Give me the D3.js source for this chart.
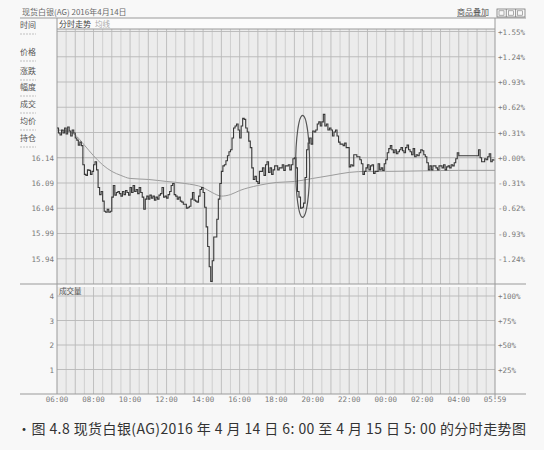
<!DOCTYPE html>
<html><head><meta charset="utf-8">
<script src="https://cdn.jsdelivr.net/npm/d3@7"></script>
<style>
body{margin:0;background:#f8f8f8;}
svg{display:block;font-family:"Noto Sans CJK SC","DejaVu Sans",sans-serif;}
</style></head><body><svg id="c" width="544" height="450"></svg>
<script>
// ---------- data ----------
const titleText = "现货白银(AG) 2016年4月14日";
const panelTitle = "分时走势";
const panelSub = "均线";
const volumeTitle = "成交量";
const overlayText = "商品叠加";
const sideLabels = ["时间","价格","涨跌","幅度","成交","均价","持仓"];
const caption = "•图 4.8   现货白银(AG)2016 年 4 月 14 日 6: 00 至 4 月 15 日 5: 00 的分时走势图";

const basePrice = 16.14;
const priceStart = "2016-04-14 06:00";
const sessionEnd = "2016-04-15 05:59";
const priceIntervalMin = 5;
const prices = [
16.199,16.189,16.185,16.195,16.189,16.199,16.187,16.201,16.193,16.183,
16.195,16.189,16.179,16.175,16.165,16.171,16.164,16.126,16.107,16.105,
16.116,16.115,16.107,16.113,16.126,16.132,16.116,16.081,16.067,16.073,
16.054,16.034,16.032,16.038,16.032,16.034,16.062,16.085,16.066,16.071,
16.073,16.069,16.064,16.073,16.067,16.075,16.071,16.066,16.081,16.071,
16.085,16.073,16.077,16.069,16.081,16.071,16.062,16.038,16.058,16.064,
16.058,16.066,16.060,16.064,16.056,16.062,16.058,16.066,16.069,16.081,
16.062,16.064,16.060,16.067,16.073,16.085,16.089,16.067,16.064,16.058,
16.062,16.054,16.052,16.048,16.048,16.040,16.042,16.044,16.058,16.071,
16.056,16.054,16.052,16.064,16.077,16.081,16.071,16.042,16.003,15.964,
15.924,15.895,15.936,15.983,15.983,16.018,16.058,16.089,16.113,16.124,
16.126,16.134,16.144,16.152,16.156,16.179,16.199,16.203,16.207,16.195,
16.179,16.203,16.218,16.216,16.199,16.191,16.173,16.160,16.120,16.097,
16.103,16.093,16.089,16.113,16.113,16.120,16.105,16.126,16.132,16.111,
16.120,16.107,16.116,16.124,16.124,16.116,16.120,16.120,16.126,16.115,
16.124,16.124,16.126,16.116,16.126,16.138,16.140,16.120,16.073,16.062,
16.040,16.042,16.050,16.101,16.156,16.169,16.179,16.167,16.193,16.191,
16.195,16.207,16.211,16.203,16.211,16.226,16.203,16.207,16.195,16.199,
16.195,16.183,16.191,16.195,16.183,16.171,16.167,16.167,16.164,16.169,
16.160,16.160,16.122,16.126,16.124,16.146,16.146,16.142,16.142,16.136,
16.128,16.107,16.113,16.120,16.126,16.116,16.124,16.126,16.109,16.113,
16.113,16.128,16.116,16.120,16.115,16.128,16.136,16.150,16.158,16.164,
16.156,16.150,16.156,16.148,16.152,16.156,16.160,16.154,16.150,16.160,
16.165,16.156,16.152,16.146,16.158,16.142,16.146,16.144,16.150,16.156,
16.154,16.146,16.142,16.130,16.116,16.124,16.116,16.124,16.124,16.120,
16.116,16.124,16.124,16.120,16.126,16.116,16.122,16.124,16.120,16.126,
16.124,16.130,16.138,16.150,16.144,16.144,16.144,16.144,16.144,16.144,
16.144,16.144,16.144,16.144,16.144,16.144,16.144,16.156,16.140,16.132,
16.132,16.138,16.136,16.142,16.148,16.132,16.136,16.134
];
const avgTimes = ["06:00","06:30","07:00","07:30","08:00","08:30","09:00","09:30","10:00","11:00",
  "12:00","13:00","14:00","14:30","15:00","15:30","16:00","17:00","18:00","19:00",
  "20:00","21:00","22:00","23:00","00:00","02:00","04:00","05:59"];
const avgPrices = [16.195,16.193,16.185,16.165,16.144,16.126,16.113,16.105,16.099,16.097,
  16.093,16.089,16.081,16.071,16.064,16.067,16.075,16.085,16.091,16.093,
  16.099,16.105,16.111,16.113,16.113,16.114,16.115,16.115];

const priceTicks = [16.14,16.09,16.04,15.99,15.94];
const pctTicks = [1.55,1.24,0.93,0.62,0.31,0,-0.31,-0.62,-0.93,-1.24];
const volumeTicks = [1,2,3,4];
const volumePctTicks = ["+25%","+50%","+75%","+100%"];
const volumes = []; // 成交量 panel is empty
const timeTicks = ["06:00","08:00","10:00","12:00","14:00","16:00","18:00","20:00","22:00","00:00","02:00","04:00","05:59"];
const markedSpan = {start:"19:04", end:"19:50", high:16.224, low:16.022};

// ---------- helpers ----------
const parseFull = d3.timeParse("%Y-%m-%d %H:%M");
const t0 = parseFull(priceStart), t1 = parseFull(sessionEnd);
function hm(s){ const [h,m]=s.split(":").map(Number); return new Date(2016,3,h>=6?14:15,h,m); }

const svg = d3.select("#c");
const L = 57, R = 495, PT = 31.5, PB = 284, VT = 287, VB = 394;

const x = d3.scaleTime().domain([t0,t1]).range([L,R]);
const y = d3.scaleLinear().domain([basePrice*(1-0.0155), basePrice*(1+0.0155)]).range([PB,PT]);
const yv = d3.scaleLinear().domain([0,4]).range([VB,296]);

// panels
svg.append("rect").attr("x",L).attr("y",29).attr("width",R-L).attr("height",PB-29).attr("fill","#ececec");
svg.append("rect").attr("x",L).attr("y",VT).attr("width",R-L).attr("height",VB-VT).attr("fill","#ececec");
svg.append("rect").attr("x",L).attr("y",18).attr("width",R-L).attr("height",11).attr("fill","#fbfbfb");

// vertical grid
const halfHours = d3.timeMinute.every(30).range(t0, t1);
[[29,PB],[VT,VB]].forEach(([a,b])=>{
  svg.append("g").selectAll("line").data(halfHours.slice(1)).join("line")
    .attr("x1",d=>x(d)).attr("x2",d=>x(d)).attr("y1",a).attr("y2",b)
    .attr("stroke",d=>d.getMinutes()===0?"#b4b4b4":"#c8c8c8").attr("stroke-width",0.8);
});
// horizontal grid
svg.append("g").selectAll("line").data(pctTicks).join("line")
  .attr("x1",L).attr("x2",R).attr("y1",d=>y(basePrice*(1+d/100))).attr("y2",d=>y(basePrice*(1+d/100)))
  .attr("stroke",d=>d===0?"#a8a8a8":"#b8b8b8").attr("stroke-width",0.9);
svg.append("g").selectAll("line").data(volumeTicks).join("line")
  .attr("x1",L).attr("x2",R).attr("y1",d=>yv(d)).attr("y2",d=>yv(d))
  .attr("stroke","#b8b8b8").attr("stroke-width",0.9);

// frame lines
const frame = svg.append("g").attr("stroke","#9a9a9a").attr("stroke-width",1).attr("fill","none");
frame.append("line").attr("x1",20).attr("x2",526).attr("y1",18).attr("y2",18);
frame.append("line").attr("x1",L).attr("x2",R).attr("y1",29).attr("y2",29);
frame.append("line").attr("x1",20).attr("x2",526).attr("y1",PB).attr("y2",PB);
frame.append("line").attr("x1",20).attr("x2",526).attr("y1",VB).attr("y2",VB);
frame.append("line").attr("x1",L).attr("x2",L).attr("y1",18).attr("y2",VB);
frame.append("line").attr("x1",R).attr("x2",R).attr("y1",18).attr("y2",VB+4);

// lines
const priceData = prices.map((p,i)=>({t:d3.timeMinute.offset(t0,i*priceIntervalMin),p}));
svg.append("path").datum(avgTimes.map((t,i)=>({t:hm(t),p:avgPrices[i]})))
  .attr("fill","none").attr("stroke","#9c9c9c").attr("stroke-width",1)
  .attr("d",d3.line().x(d=>x(d.t)).y(d=>y(d.p)).curve(d3.curveMonotoneX));
svg.append("path").datum(priceData)
  .attr("fill","none").attr("stroke","#383838").attr("stroke-width",1.1)
  .attr("d",d3.line().x(d=>x(d.t)).y(d=>y(d.p)).curve(d3.curveStepAfter));

// ellipse annotation
const ex1=x(hm(markedSpan.start)), ex2=x(hm(markedSpan.end)), ey1=y(markedSpan.high), ey2=y(markedSpan.low);
svg.append("ellipse").attr("cx",(ex1+ex2)/2).attr("cy",(ey1+ey2)/2).attr("rx",(ex2-ex1)/2).attr("ry",(ey2-ey1)/2)
  .attr("fill","none").attr("stroke","#555").attr("stroke-width",1.2);

// axis labels
const num = {"font-family":"'DejaVu Sans Mono',monospace","font-size":"7.5px","fill":"#7a7a7a"};
function sty(sel,o){ for(const k in o) sel.attr(k,o[k]); return sel; }
sty(svg.append("g").selectAll("text").data(pctTicks).join("text")
  .attr("x",498).attr("y",d=>y(basePrice*(1+d/100))+3)
  .text(d=>(d>=0?"+":"")+d.toFixed(2)+"%"),num);
sty(svg.append("g").selectAll("text").data(priceTicks).join("text")
  .attr("x",54).attr("y",d=>y(d)+3).attr("text-anchor","end")
  .text(d=>d.toFixed(2)),num);
sty(svg.append("g").selectAll("text").data(volumeTicks).join("text")
  .attr("x",54).attr("y",d=>yv(d)+3).attr("text-anchor","end").text(d=>d),num);
sty(svg.append("g").selectAll("text").data(volumePctTicks).join("text")
  .attr("x",498).attr("y",(d,i)=>yv(volumeTicks[i])+3).text(d=>d),num);
sty(svg.append("g").selectAll("text").data(timeTicks).join("text")
  .attr("x",d=>x(d==="05:59"?t1:hm(d))).attr("y",402).attr("text-anchor","middle").text(d=>d),num);

// titles
svg.append("text").attr("x",22).attr("y",15).attr("font-size","8px").attr("fill","#6a6a6a").text(titleText);
svg.append("text").attr("x",59).attr("y",27).attr("font-size","8px").attr("fill","#444").text(panelTitle);
svg.append("text").attr("x",95).attr("y",27).attr("font-size","7.5px").attr("fill","#aaa").text(panelSub);
svg.append("text").attr("x",59).attr("y",294).attr("font-size","7.5px").attr("fill","#555").text(volumeTitle);
svg.append("text").attr("x",457).attr("y",15).attr("font-size","8px").attr("fill","#555").text(overlayText);
svg.append("line").attr("x1",457).attr("x2",486).attr("y1",16.5).attr("y2",16.5).attr("stroke","#777").attr("stroke-width",0.7);
const ic = svg.append("g").attr("stroke","#777").attr("fill","none").attr("stroke-width",0.8);
ic.append("rect").attr("x",497).attr("y",9).attr("width",28).attr("height",8);
[506.3,515.6].forEach(v=>ic.append("line").attr("x1",v).attr("x2",v).attr("y1",9).attr("y2",17));
[501.5,511,520].forEach(v=>ic.append("rect").attr("x",v-2.5).attr("y",10.8).attr("width",5).attr("height",4.4).attr("stroke-width",0.6));

// sidebar
const sideY = [25,52,71,87,104,121,138];
const sb = svg.append("g");
sb.selectAll("text").data(sideLabels).join("text").attr("x",20).attr("y",(d,i)=>sideY[i]+3)
  .attr("font-size","8px").attr("fill","#555").text(d=>d);
sb.selectAll("line").data(sideLabels).join("line").attr("x1",20).attr("x2",36)
  .attr("y1",(d,i)=>sideY[i]+9).attr("y2",(d,i)=>sideY[i]+9)
  .attr("stroke","#aaa").attr("stroke-width",0.7).attr("stroke-dasharray","2,1");

// caption
svg.append("text").attr("x",17).attr("y",434).attr("font-size","14px").attr("fill","#333")
  .attr("textLength",509).attr("lengthAdjust","spacing").text(caption);
</script></body></html>
